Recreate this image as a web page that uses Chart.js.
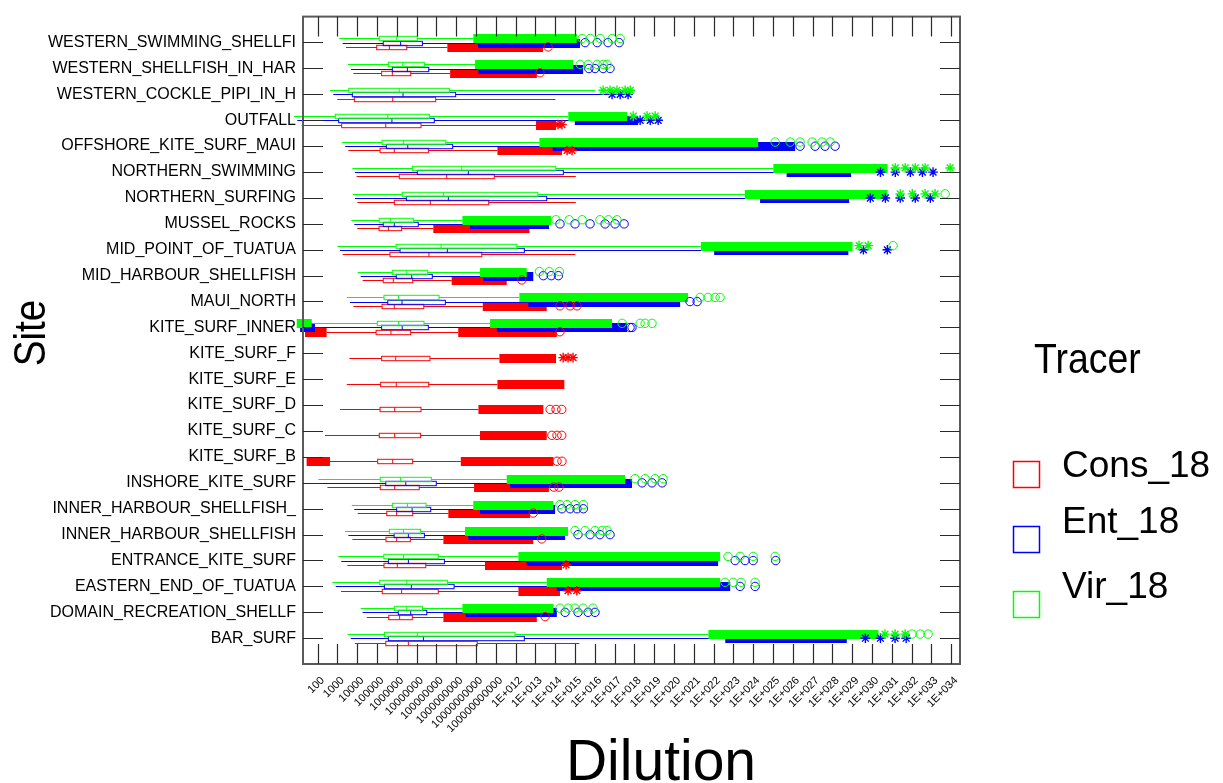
<!DOCTYPE html>
<html>
<head>
<meta charset="utf-8">
<title>Dilution by site and tracer</title>
<script src="https://cdn.jsdelivr.net/npm/chart.js@4.4.1/dist/chart.umd.min.js"></script>
<style>
  html, body { margin: 0; padding: 0; background: #ffffff; }
  #wrap { width: 1223px; height: 783px; }
</style>
</head>
<body>
<div id="wrap"><canvas id="chart" width="1223" height="783"></canvas></div>
<script>
// Sites, top to bottom
const sites = [
  'WESTERN_SWIMMING_SHELLFI', 'WESTERN_SHELLFISH_IN_HAR', 'WESTERN_COCKLE_PIPI_IN_H', 'OUTFALL',
  'OFFSHORE_KITE_SURF_MAUI', 'NORTHERN_SWIMMING', 'NORTHERN_SURFING', 'MUSSEL_ROCKS',
  'MID_POINT_OF_TUATUA', 'MID_HARBOUR_SHELLFISH', 'MAUI_NORTH', 'KITE_SURF_INNER',
  'KITE_SURF_F', 'KITE_SURF_E', 'KITE_SURF_D', 'KITE_SURF_C', 'KITE_SURF_B',
  'INSHORE_KITE_SURF', 'INNER_HARBOUR_SHELLFISH_', 'INNER_HARBOUR_SHELLFISH',
  'ENTRANCE_KITE_SURF', 'EASTERN_END_OF_TUATUA', 'DOMAIN_RECREATION_SHELLF', 'BAR_SURF'
];

// Decade ticks on the dilution axis
const tickExponents = [2, 3, 4, 5, 6, 7, 8, 9, 10, 11, 12, 13, 14, 15, 16, 17, 18, 19, 20, 21, 22, 23, 24, 25, 26, 27, 28, 29, 30, 31, 32, 33, 34];
const tickLabels = [
  '100', '1000', '10000', '100000', '1000000', '10000000', '100000000', '1000000000',
  '10000000000', '100000000000', '1E+012', '1E+013', '1E+014', '1E+015', '1E+016', '1E+017',
  '1E+018', '1E+019', '1E+020', '1E+021', '1E+022', '1E+023', '1E+024', '1E+025', '1E+026',
  '1E+027', '1E+028', '1E+029', '1E+030', '1E+031', '1E+032', '1E+033', '1E+034'
];

// All statistics below are log10(dilution).
// low/high = whisker ends, runEnd = end of the dense outlier run that starts at high,
// lowRun = run of low outliers, circles/stars = individual far outliers.

// Cons_18
const consLow    = [3.43, 3.80, 2.99, 1.19, 3.55, 3.97, 4.00, 4.00, 3.26, 4.27, 3.80, 2.45, 3.60, 3.47, 3.13, 2.37, 2.62, 2.49, 4.02, 3.75, 3.50, 3.18, 4.48, 3.88];
const consQ1     = [4.98, 5.23, 3.85, 3.21, 5.15, 6.12, 5.87, 5.10, 5.65, 5.31, 5.25, 4.95, 5.23, 5.18, 5.15, 5.11, 5.03, 5.16, 5.49, 5.45, 5.35, 5.26, 5.59, 5.44];
const consMedian = [5.62, 5.77, 5.79, 5.44, 5.87, 8.52, 7.69, 5.57, 7.62, 5.82, 5.87, 5.70, 5.94, 5.97, 5.89, 5.89, 5.79, 5.89, 5.99, 5.99, 6.02, 6.24, 6.14, 6.58];
const consQ3     = [6.50, 6.70, 7.96, 7.22, 7.59, 10.92, 10.64, 6.24, 10.29, 6.80, 7.36, 6.70, 7.67, 7.61, 7.22, 7.20, 6.80, 7.13, 6.80, 6.68, 7.46, 8.09, 6.78, 10.06];
const consHigh   = [8.55, 8.69, 14.01, 13.03, 11.08, 15.04, 15.04, 7.84, 15.02, 8.77, 10.34, 9.10, 11.18, 11.08, 10.12, 10.20, 9.23, 9.90, 8.60, 8.35, 10.45, 12.14, 8.35, 15.22];
const consRunEnd = [13.38, 13.07, null, 14.04, 14.34, null, null, 12.70, null, 11.55, 13.57, 14.08, 14.04, 14.46, 13.40, 13.57, 13.91, 13.68, 12.73, 12.89, 14.34, 14.24, 13.07, null];
const consLowRun = [null, null, null, null, null, null, null, null, null, null, null, [1.36, 2.45], null, null, null, null, [1.44, 2.62], null, null, null, null, null, null, null];
const consCircles = [[13.64], [13.23], [], [], [], [], [], [], [], [12.31], [14.24, 14.75, 15.10], [14.24], [], [], [13.74, 14.04, 14.33], [13.83, 14.09, 14.33], [14.09, 14.34], [13.93, 14.19], [12.89], [13.32], [], [], [13.49], []];
const consStars   = [[], [], [], [14.14, 14.34], [14.60, 14.85], [], [], [], [], [], [], [], [14.40, 14.65, 14.90], [], [], [], [], [], [], [], [14.55], [14.65, 15.09], [], []];

// Ent_18
const entLow    = [3.26, 3.68, 2.79, 0.97, 3.39, 3.88, 3.88, 3.85, 3.13, 4.17, 3.63, 1.86, null, null, null, null, null, 2.23, 3.85, 3.55, 3.19, 2.91, 4.27, 3.67];
const entQ1     = [5.31, 5.77, 3.75, 3.06, 5.47, 7.03, 6.48, 5.31, 6.16, 5.97, 5.54, 5.23, null, null, null, null, null, 5.44, 5.99, 5.86, 5.57, 5.37, 6.07, 5.57];
const entMedian = [6.19, 6.53, 6.31, 5.75, 6.55, 9.61, 8.60, 5.87, 8.55, 6.75, 6.26, 6.27, null, null, null, null, null, 6.45, 6.77, 6.58, 6.58, 6.73, 6.70, 7.34];
const entQ3     = [7.29, 7.61, 8.97, 7.89, 8.82, 14.41, 13.57, 7.08, 12.44, 7.79, 8.45, 7.59, null, null, null, null, null, 7.99, 7.71, 7.39, 8.40, 8.89, 7.51, 12.44];
const entHigh   = [10.10, 10.12, 16.77, 14.99, 13.87, 25.69, 24.35, 9.70, 22.03, 10.37, 12.64, 11.05, null, null, null, null, null, 11.72, 10.20, 9.61, 12.56, 14.08, 9.48, 22.59];
const entRunEnd = [15.25, 15.41, null, 18.19, 26.12, 28.95, 28.85, 13.69, 28.81, 12.89, 20.31, 17.63, null, null, null, null, null, 17.88, 13.99, 14.50, 22.23, 22.84, 14.08, 28.73];
const entLowRun = [null, null, null, null, null, null, null, null, null, null, null, [1.11, 1.86], null, null, null, null, null, null, null, null, null, null, null, null];
const entCircles = [[15.51, 16.12, 16.67, 17.23], [15.70, 16.01, 16.42, 16.77], [], [], [26.37, 27.13, 27.63, 28.14], [], [], [14.24, 15.00, 15.76, 16.52, 17.02, 17.48], [], [13.40, 13.80, 14.16], [20.81, 21.17], [17.78, 17.88], [], [], [], [], [], [18.39, 18.89, 19.40], [14.34, 14.75, 15.10, 15.42], [15.15, 15.76, 16.26, 16.77], [23.09, 23.59, 24.00, 25.14], [23.34, 24.10], [14.50, 15.15, 15.66, 16.01], []];
const entStars   = [[], [], [16.87, 17.28, 17.68], [18.29, 18.80, 19.20], [], [30.43, 31.18, 31.94, 32.55, 33.09], [29.92, 30.68, 31.43, 32.19, 32.95], [], [29.57, 30.78], [], [], [], [], [], [], [], [], [], [], [], [], [], [], [29.67, 30.43, 31.17, 31.73]];

// Vir_18
const virLow    = [3.09, 3.52, 2.62, 0.80, 3.23, 3.75, 3.77, 3.70, 2.99, 4.02, 3.47, 1.70, null, null, null, null, null, 2.03, 3.72, 3.38, 3.04, 2.74, 4.17, 3.50];
const virQ1     = [5.11, 5.57, 3.57, 2.89, 5.25, 6.78, 6.27, 5.11, 5.96, 5.77, 5.35, 5.01, null, null, null, null, null, 5.16, 5.77, 5.62, 5.34, 5.13, 5.87, 5.37];
const virMedian = [5.99, 6.30, 6.12, 5.54, 6.33, 9.28, 8.35, 5.67, 8.23, 6.50, 6.09, 6.09, null, null, null, null, null, 6.19, 6.53, 6.33, 6.33, 6.50, 6.50, 7.03];
const virQ3     = [7.03, 7.39, 8.65, 7.64, 8.47, 14.03, 13.12, 6.83, 12.06, 7.56, 8.13, 7.37, null, null, null, null, null, 7.74, 7.47, 7.20, 8.09, 8.55, 7.29, 11.97];
const virHigh   = [9.86, 9.95, 16.01, 14.66, 13.20, 25.02, 23.58, 9.31, 21.36, 10.20, 12.19, 10.71, null, null, null, null, null, 11.55, 9.86, 9.44, 12.14, 13.57, 9.31, 21.74];
const virRunEnd = [15.09, 14.90, null, 17.63, 24.25, 30.79, 30.79, 13.79, 29.02, 12.56, 20.71, 16.87, null, null, null, null, null, 17.53, 13.91, 14.65, 22.33, 22.33, 13.91, 30.33];
const virLowRun = [null, null, null, null, null, null, null, null, null, null, null, [0.94, 1.70], null, null, null, null, null, null, null, null, null, null, null, null];
const virCircles = [[15.36, 15.77, 16.27, 16.88, 17.28], [15.26, 15.66, 16.12, 16.42, 16.62], [], [], [25.11, 25.87, 26.37, 26.98, 27.48, 27.89], [], [33.70], [14.03, 14.70, 15.36, 16.26, 16.69, 17.12], [31.07], [13.20, 13.70, 14.21], [21.32, 21.72, 22.08, 22.33], [17.38, 18.29, 18.54, 18.89], [], [], [], [], [], [18.03, 18.54, 19.04, 19.45], [14.24, 14.60, 15.00, 15.42], [15.00, 15.51, 16.01, 16.37, 16.62], [22.73, 23.34, 24.00, 25.11], [22.58, 22.99, 23.39, 24.10], [14.24, 14.65, 15.00, 15.41, 15.91], [32.03, 32.44, 32.84]];
const virStars   = [[], [], [16.42, 16.77, 17.12, 17.53, 17.79], [17.94, 18.64, 19.05], [], [31.18, 31.68, 32.19, 32.69, 33.95], [31.43, 32.04, 32.69, 33.19], [], [29.35, 29.81], [], [], [], [], [], [], [], [], [], [], [], [], [], [], [30.66, 31.17, 31.68]];

// Drawing order: red first, then blue, then green on top
const series = [
  { name: 'Cons_18', colour: '#ff0000', offset: 0.17,   low: consLow, q1: consQ1, median: consMedian, q3: consQ3, high: consHigh, runEnd: consRunEnd, lowRun: consLowRun, circles: consCircles, stars: consStars },
  { name: 'Ent_18',  colour: '#0000ff', offset: 0.005,  low: entLow,  q1: entQ1,  median: entMedian,  q3: entQ3,  high: entHigh,  runEnd: entRunEnd,  lowRun: entLowRun,  circles: entCircles,  stars: entStars },
  { name: 'Vir_18',  colour: '#00ff00', offset: -0.155, low: virLow,  q1: virQ1,  median: virMedian,  q3: virQ3,  high: virHigh,  runEnd: virRunEnd,  lowRun: virLowRun,  circles: virCircles,  stars: virStars }
];

const FONT = "'Liberation Sans', Arial, Helvetica, sans-serif";
Chart.defaults.font.family = FONT;
Chart.defaults.color = '#000000';

const dil = e => Math.pow(10, e);

function outlierPoints(s, list) {
  const pts = [];
  list.forEach((vals, i) => vals.forEach(v => pts.push({ x: dil(v), y: i + s.offset })));
  return pts;
}

// Far outliers as scatter datasets; green datasets listed first so they draw on top
const datasets = [];
series.slice().reverse().forEach(s => {
  datasets.push({
    label: s.name, data: outlierPoints(s, s.circles),
    pointStyle: 'circle', pointRadius: 4.2, borderWidth: 1,
    borderColor: s.colour, backgroundColor: 'rgba(0,0,0,0)', clip: false
  });
  datasets.push({
    label: s.name, data: outlierPoints(s, s.stars),
    pointStyle: 'star', pointRadius: 4.8, borderWidth: 1.4,
    borderColor: s.colour, backgroundColor: s.colour, clip: false
  });
});

// Boxes, whiskers and dense outlier runs
const boxPlots = {
  id: 'boxPlots',
  beforeDatasetsDraw(chart) {
    const { ctx, scales: { x, y } } = chart;
    const X = e => x.getPixelForValue(dil(e));
    const HALF_BOX = 2.2, HALF_RUN = 4.5;
    ctx.save();
    ctx.lineWidth = 1;
    series.forEach(s => {
      ctx.strokeStyle = s.colour;
      ctx.fillStyle = s.colour;
      sites.forEach((site, i) => {
        if (s.q1[i] == null) return;
        const yc = Math.round(y.getPixelForValue(i + s.offset)) + 0.5;
        // dense outlier runs
        if (s.runEnd[i] != null) {
          const a = X(s.high[i]), b = X(s.runEnd[i]);
          ctx.fillRect(a, yc - HALF_RUN, b - a, HALF_RUN * 2);
        }
        if (s.lowRun[i]) {
          const a = X(s.lowRun[i][0]), b = X(s.lowRun[i][1]);
          ctx.fillRect(a, yc - HALF_RUN, b - a, HALF_RUN * 2);
        }
        const lo = X(s.low[i]), q1 = X(s.q1[i]), md = X(s.median[i]), q3 = X(s.q3[i]), hi = X(s.high[i]);
        ctx.beginPath();
        ctx.moveTo(lo, yc); ctx.lineTo(q1, yc);
        ctx.moveTo(q3, yc); ctx.lineTo(hi, yc);
        ctx.stroke();
        ctx.strokeRect(q1, yc - HALF_BOX, q3 - q1, HALF_BOX * 2);
        ctx.beginPath();
        ctx.moveTo(md, yc - HALF_BOX); ctx.lineTo(md, yc + HALF_BOX);
        ctx.stroke();
      });
    });
    ctx.restore();
  },
  afterDatasetsDraw(chart) {
    // frame with inward tick marks on all four sides
    const { ctx, chartArea: a, scales: { x, y } } = chart;
    const T = 20;
    ctx.save();
    ctx.strokeStyle = '#5a5a5a';
    ctx.lineWidth = 2;
    ctx.strokeRect(a.left, a.top, a.right - a.left, a.bottom - a.top);
    ctx.strokeStyle = '#2a2a2a';
    ctx.lineWidth = 1.2;
    ctx.beginPath();
    x.ticks.forEach(t => {
      const px = Math.round(x.getPixelForValue(t.value)) + 0.5;
      ctx.moveTo(px, a.bottom); ctx.lineTo(px, a.bottom - T);
      ctx.moveTo(px, a.top); ctx.lineTo(px, a.top + T);
    });
    y.ticks.forEach(t => {
      const py = Math.round(y.getPixelForValue(t.value)) + 0.5;
      ctx.moveTo(a.left, py); ctx.lineTo(a.left + T, py);
      ctx.moveTo(a.right, py); ctx.lineTo(a.right - T, py);
    });
    ctx.stroke();
    ctx.restore();
  },
  afterDraw(chart) {
    const { ctx } = chart;
    ctx.save();
    ctx.fillStyle = '#000000';
    // axis titles
    ctx.font = `57px ${FONT}`;
    ctx.textAlign = 'center';
    ctx.textBaseline = 'alphabetic';
    ctx.fillText('Dilution', 661, 780);
    ctx.save();
    ctx.translate(45, 333);
    ctx.rotate(-Math.PI / 2);
    ctx.scale(0.88, 1);
    ctx.font = `44px ${FONT}`;
    ctx.fillText('Site', 0, 0);
    ctx.restore();
    // legend
    ctx.save();
    ctx.translate(1034, 373);
    ctx.scale(0.87, 1);
    ctx.font = `43px ${FONT}`;
    ctx.textAlign = 'left';
    ctx.fillText('Tracer', 0, 0);
    ctx.restore();
    const rows = [{ box: 461, text: 477 }, { box: 526, text: 533 }, { box: 591, text: 598 }];
    ctx.font = `37px ${FONT}`;
    ctx.textAlign = 'left';
    series.forEach((s, k) => {
      ctx.strokeStyle = s.colour;
      ctx.lineWidth = 1.5;
      ctx.strokeRect(1013.5, rows[k].box + 0.5, 26, 26);
      ctx.fillStyle = '#000000';
      ctx.fillText(s.name, 1062, rows[k].text);
    });
    ctx.restore();
  }
};

new Chart(document.getElementById('chart'), {
  type: 'scatter',
  data: { datasets },
  options: {
    responsive: false,
    animation: false,
    events: [],
    layout: { padding: { top: 8, right: 263, bottom: 0, left: 0 } },
    plugins: { legend: { display: false }, tooltip: { enabled: false } },
    scales: {
      x: {
        type: 'logarithmic',
        position: 'bottom',
        bounds: 'data',
        min: dil(1.257),
        max: dil(34.45),
        grid: { display: false, drawTicks: false },
        border: { display: false },
        afterBuildTicks: scale => { scale.ticks = tickExponents.map(e => ({ value: dil(e) })); },
        afterFit: scale => { scale.height = 119; },
        ticks: {
          autoSkip: false, minRotation: 45, maxRotation: 45, padding: 10, labelOffset: 5,
          color: '#000000', font: { size: 11 },
          callback: (value, index) => tickLabels[index]
        }
      },
      y: {
        type: 'linear',
        reverse: true,
        min: -1,
        max: 24,
        grid: { display: false, drawTicks: false },
        border: { display: false },
        afterBuildTicks: scale => { scale.ticks = sites.map((_, i) => ({ value: i })); },
        afterFit: scale => { scale.width = 303; },
        ticks: {
          autoSkip: false, padding: 7,
          color: '#000000', font: { size: 16 },
          callback: value => sites[value]
        }
      }
    }
  },
  plugins: [boxPlots]
});
</script>
</body>
</html>
